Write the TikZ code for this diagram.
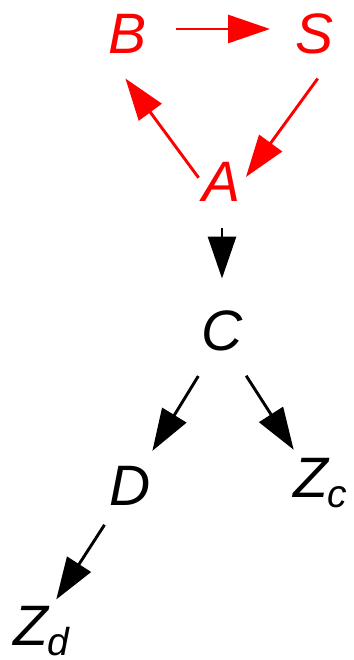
\documentclass[tikz,border=0pt]{standalone}
\usepackage{fontspec}
\setmainfont{Liberation Sans}
\usetikzlibrary{arrows.meta}
\newcommand\lowsub[1]{\raisebox{-10pt}{\fontsize{39}{39}\selectfont #1}}

\begin{document}
\begin{tikzpicture}[x=1pt,y=-1pt,
letter/.style={inner sep=0pt,outer sep=0pt,minimum width=42pt,
text height=41pt,text depth=0pt,font=\fontsize{57}{60}\selectfont\itshape},
arr/.style={line width=2.9pt,-{Triangle[length=42pt,width=28pt]}}]
\useasboundingbox (0,0) rectangle (353,660);
% red cycle
\node[letter,red] (B) at (128,33) {B};
\node[letter,red] (S) at (315,33) {S};
\node[letter,red] (A) at (222,181) {A};
% black tree
\node[letter] (C) at (222,330) {C};
\node[letter] (D) at (130,485) {D};
\node[letter,anchor=west] (Zc) at (293,477) {Z\lowsub{c}};
\node[letter,anchor=west] (Zd) at (13,625) {Z\lowsub{d}};
\draw[arr,red,shorten <=27pt,shorten >=24pt] ([yshift=4pt]B.east)--([yshift=4pt]S.west);
\draw[arr,red,shorten <=31pt,shorten >=5pt] (S.south east)--(A.east);
\draw[arr,red,shorten <=4pt,shorten >=31pt] (A.west)--(B.south west);
\draw[arr,shorten <=26pt,shorten >=31pt] (A.south)--(C.north);
\draw[arr,shorten <=30pt,shorten >=16pt] ([xshift=-8pt]C.south)--([xshift=14pt]D.north);
\draw[arr,shorten <=30pt,shorten >=8pt] ([xshift=8pt]C.south)--([xshift=5pt]Zc.north west);
\draw[arr,shorten <=23pt,shorten >=6pt] ([xshift=-13pt]D.south)--([xshift=40pt]Zd.north west);
\end{tikzpicture}
\end{document}
